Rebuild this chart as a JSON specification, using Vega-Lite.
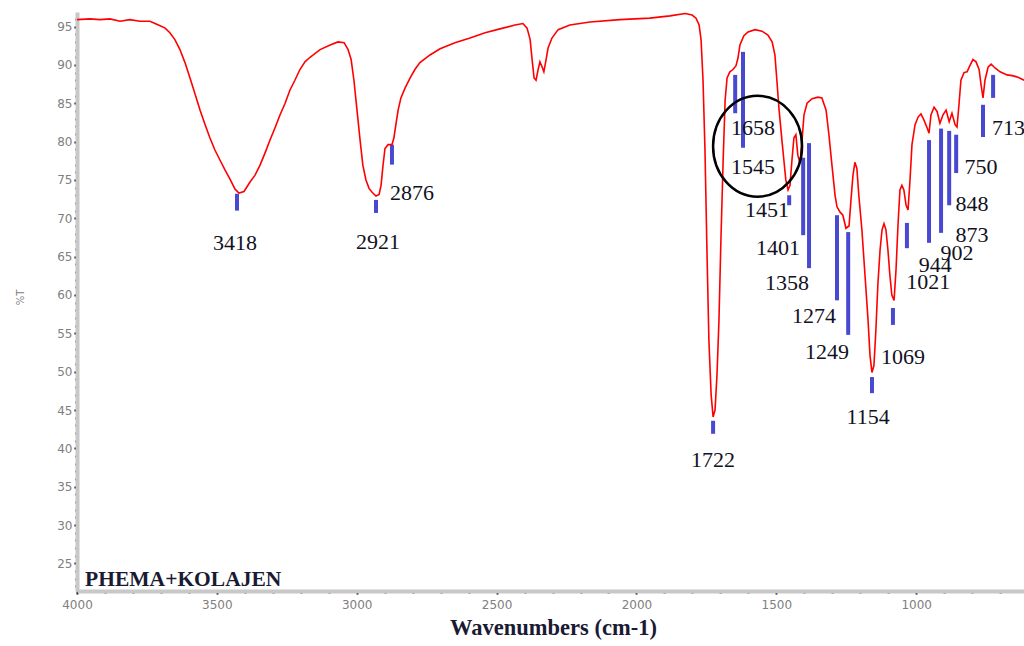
{
  "$schema": "https://vega.github.io/schema/vega-lite/v6.json",
  "width": 947,
  "height": 579,
  "autosize": "none",
  "padding": {"left": 77, "top": 12, "right": 0, "bottom": 55},
  "background": "white",
  "config": {"view": {"stroke": null}},
  "resolve": {"axis": {"x": "independent", "y": "independent"}},
  "datasets": {
    "spectrum": [
      {"wn": 4000, "t": 95.9}, {"wn": 3954, "t": 96.0}, {"wn": 3918, "t": 95.9}, {"wn": 3882, "t": 96.0},
      {"wn": 3846, "t": 95.7}, {"wn": 3811, "t": 95.9}, {"wn": 3775, "t": 95.7}, {"wn": 3739, "t": 95.7},
      {"wn": 3721, "t": 95.4}, {"wn": 3703, "t": 95.1}, {"wn": 3685, "t": 94.8}, {"wn": 3668, "t": 94.2},
      {"wn": 3650, "t": 93.3}, {"wn": 3632, "t": 92.0}, {"wn": 3614, "t": 90.3}, {"wn": 3596, "t": 88.3},
      {"wn": 3578, "t": 86.2}, {"wn": 3560, "t": 84.1}, {"wn": 3542, "t": 82.2}, {"wn": 3525, "t": 80.5},
      {"wn": 3507, "t": 78.9}, {"wn": 3489, "t": 77.6}, {"wn": 3471, "t": 76.3}, {"wn": 3453, "t": 75.1},
      {"wn": 3435, "t": 73.8}, {"wn": 3421, "t": 73.3}, {"wn": 3403, "t": 73.5}, {"wn": 3382, "t": 74.7},
      {"wn": 3364, "t": 75.6}, {"wn": 3346, "t": 76.9}, {"wn": 3328, "t": 78.5}, {"wn": 3310, "t": 80.2},
      {"wn": 3292, "t": 81.8}, {"wn": 3274, "t": 83.5}, {"wn": 3256, "t": 85.0}, {"wn": 3239, "t": 86.7},
      {"wn": 3221, "t": 88.0}, {"wn": 3203, "t": 89.4}, {"wn": 3185, "t": 90.4}, {"wn": 3167, "t": 91.0},
      {"wn": 3131, "t": 92.0}, {"wn": 3095, "t": 92.6}, {"wn": 3067, "t": 93.0}, {"wn": 3045, "t": 92.9},
      {"wn": 3031, "t": 92.0}, {"wn": 3020, "t": 90.7}, {"wn": 3010, "t": 88.0}, {"wn": 2999, "t": 84.1},
      {"wn": 2988, "t": 80.2}, {"wn": 2978, "t": 76.9}, {"wn": 2967, "t": 75.0}, {"wn": 2956, "t": 73.9},
      {"wn": 2945, "t": 73.4}, {"wn": 2931, "t": 72.9}, {"wn": 2920, "t": 73.1}, {"wn": 2913, "t": 74.3},
      {"wn": 2906, "t": 76.9}, {"wn": 2899, "t": 79.1}, {"wn": 2888, "t": 79.6}, {"wn": 2874, "t": 79.6},
      {"wn": 2867, "t": 80.5}, {"wn": 2860, "t": 82.2}, {"wn": 2852, "t": 84.1}, {"wn": 2842, "t": 85.7},
      {"wn": 2827, "t": 87.0}, {"wn": 2809, "t": 88.3}, {"wn": 2792, "t": 89.4}, {"wn": 2774, "t": 90.3},
      {"wn": 2738, "t": 91.3}, {"wn": 2702, "t": 92.1}, {"wn": 2649, "t": 92.9}, {"wn": 2595, "t": 93.5},
      {"wn": 2541, "t": 94.2}, {"wn": 2488, "t": 94.7}, {"wn": 2434, "t": 95.2}, {"wn": 2406, "t": 95.4},
      {"wn": 2391, "t": 94.8}, {"wn": 2380, "t": 93.3}, {"wn": 2373, "t": 90.7}, {"wn": 2366, "t": 88.3},
      {"wn": 2359, "t": 88.0}, {"wn": 2352, "t": 89.3}, {"wn": 2345, "t": 90.4}, {"wn": 2338, "t": 89.8},
      {"wn": 2331, "t": 89.1}, {"wn": 2323, "t": 90.7}, {"wn": 2316, "t": 92.2}, {"wn": 2302, "t": 93.5},
      {"wn": 2280, "t": 94.6}, {"wn": 2238, "t": 95.2}, {"wn": 2166, "t": 95.6}, {"wn": 2059, "t": 95.9},
      {"wn": 1952, "t": 96.1}, {"wn": 1880, "t": 96.4}, {"wn": 1826, "t": 96.7}, {"wn": 1801, "t": 96.5},
      {"wn": 1787, "t": 96.1}, {"wn": 1776, "t": 95.2}, {"wn": 1769, "t": 93.3}, {"wn": 1762, "t": 88.0},
      {"wn": 1755, "t": 78.9}, {"wn": 1748, "t": 65.9}, {"wn": 1741, "t": 54.1}, {"wn": 1733, "t": 47.0},
      {"wn": 1726, "t": 44.1}, {"wn": 1719, "t": 45.0}, {"wn": 1712, "t": 49.6}, {"wn": 1705, "t": 56.7},
      {"wn": 1698, "t": 67.2}, {"wn": 1690, "t": 77.6}, {"wn": 1683, "t": 85.4}, {"wn": 1676, "t": 88.3},
      {"wn": 1666, "t": 89.1}, {"wn": 1655, "t": 89.4}, {"wn": 1644, "t": 89.9}, {"wn": 1637, "t": 90.9},
      {"wn": 1630, "t": 92.6}, {"wn": 1616, "t": 93.8}, {"wn": 1601, "t": 94.3}, {"wn": 1576, "t": 94.6},
      {"wn": 1551, "t": 94.4}, {"wn": 1530, "t": 93.9}, {"wn": 1515, "t": 93.0}, {"wn": 1505, "t": 91.3},
      {"wn": 1498, "t": 88.0}, {"wn": 1490, "t": 84.1}, {"wn": 1480, "t": 80.2}, {"wn": 1473, "t": 77.6},
      {"wn": 1466, "t": 75.0}, {"wn": 1458, "t": 73.7}, {"wn": 1451, "t": 74.3}, {"wn": 1444, "t": 77.6},
      {"wn": 1437, "t": 80.5}, {"wn": 1430, "t": 80.9}, {"wn": 1423, "t": 78.2}, {"wn": 1415, "t": 77.2},
      {"wn": 1408, "t": 80.2}, {"wn": 1401, "t": 83.5}, {"wn": 1390, "t": 85.0}, {"wn": 1372, "t": 85.6},
      {"wn": 1351, "t": 85.8}, {"wn": 1337, "t": 85.7}, {"wn": 1322, "t": 84.1}, {"wn": 1312, "t": 80.9},
      {"wn": 1301, "t": 76.9}, {"wn": 1290, "t": 73.0}, {"wn": 1283, "t": 71.5}, {"wn": 1272, "t": 70.8},
      {"wn": 1262, "t": 70.4}, {"wn": 1251, "t": 68.7}, {"wn": 1240, "t": 69.0}, {"wn": 1233, "t": 72.4},
      {"wn": 1226, "t": 75.6}, {"wn": 1219, "t": 77.3}, {"wn": 1212, "t": 76.5}, {"wn": 1205, "t": 73.0},
      {"wn": 1194, "t": 68.5}, {"wn": 1183, "t": 62.6}, {"wn": 1172, "t": 56.7}, {"wn": 1165, "t": 52.1},
      {"wn": 1158, "t": 49.9}, {"wn": 1151, "t": 50.8}, {"wn": 1144, "t": 55.4}, {"wn": 1137, "t": 61.3},
      {"wn": 1129, "t": 65.9}, {"wn": 1122, "t": 68.5}, {"wn": 1115, "t": 69.3}, {"wn": 1108, "t": 68.5},
      {"wn": 1101, "t": 65.9}, {"wn": 1094, "t": 62.6}, {"wn": 1087, "t": 60.0}, {"wn": 1079, "t": 59.3},
      {"wn": 1072, "t": 63.3}, {"wn": 1065, "t": 69.1}, {"wn": 1058, "t": 73.7}, {"wn": 1051, "t": 74.3},
      {"wn": 1044, "t": 73.7}, {"wn": 1036, "t": 71.7}, {"wn": 1029, "t": 71.1}, {"wn": 1022, "t": 75.0},
      {"wn": 1015, "t": 79.6}, {"wn": 1004, "t": 82.2}, {"wn": 993, "t": 83.2}, {"wn": 983, "t": 83.6},
      {"wn": 972, "t": 82.8}, {"wn": 961, "t": 81.8}, {"wn": 954, "t": 81.1}, {"wn": 947, "t": 83.5},
      {"wn": 936, "t": 84.5}, {"wn": 925, "t": 83.9}, {"wn": 915, "t": 82.4}, {"wn": 904, "t": 83.5},
      {"wn": 893, "t": 84.1}, {"wn": 882, "t": 82.6}, {"wn": 872, "t": 83.7}, {"wn": 861, "t": 82.2},
      {"wn": 854, "t": 81.9}, {"wn": 847, "t": 84.8}, {"wn": 840, "t": 88.0}, {"wn": 829, "t": 89.0},
      {"wn": 818, "t": 89.1}, {"wn": 808, "t": 89.9}, {"wn": 797, "t": 90.7}, {"wn": 786, "t": 90.4},
      {"wn": 775, "t": 89.4}, {"wn": 768, "t": 87.4}, {"wn": 761, "t": 85.7}, {"wn": 754, "t": 88.0},
      {"wn": 743, "t": 89.7}, {"wn": 732, "t": 90.1}, {"wn": 718, "t": 89.6}, {"wn": 700, "t": 89.1},
      {"wn": 675, "t": 88.7}, {"wn": 657, "t": 88.6}, {"wn": 636, "t": 88.4}, {"wn": 614, "t": 88.0}
    ],
    "peaks": [
      {"wn": 3428, "t": 73.2, "t2": 71.0}, {"wn": 2931, "t": 72.4, "t2": 70.7},
      {"wn": 2874, "t": 79.6, "t2": 77.0}, {"wn": 1726, "t": 43.6, "t2": 41.9},
      {"wn": 1647, "t": 88.7, "t2": 83.7}, {"wn": 1619, "t": 91.7, "t2": 79.2},
      {"wn": 1454, "t": 73.0, "t2": 71.7}, {"wn": 1404, "t": 77.9, "t2": 67.8},
      {"wn": 1383, "t": 79.8, "t2": 63.5}, {"wn": 1283, "t": 70.4, "t2": 59.3},
      {"wn": 1243, "t": 68.2, "t2": 54.8}, {"wn": 1158, "t": 49.3, "t2": 47.2},
      {"wn": 1083, "t": 58.3, "t2": 56.1}, {"wn": 1033, "t": 69.4, "t2": 66.1},
      {"wn": 954, "t": 80.2, "t2": 66.8}, {"wn": 911, "t": 81.7, "t2": 68.1},
      {"wn": 882, "t": 81.4, "t2": 71.7}, {"wn": 857, "t": 80.9, "t2": 75.9},
      {"wn": 761, "t": 84.8, "t2": 80.6}, {"wn": 725, "t": 88.7, "t2": 85.7}
    ],
    "labels": [
      {"wn": 3435, "t": 66.8, "label": "3418"}, {"wn": 2924, "t": 66.9, "label": "2921"},
      {"wn": 2802, "t": 73.3, "label": "2876"}, {"wn": 1726, "t": 38.5, "label": "1722"},
      {"wn": 1583, "t": 81.8, "label": "1658"}, {"wn": 1583, "t": 76.7, "label": "1545"},
      {"wn": 1533, "t": 71.1, "label": "1451"}, {"wn": 1494, "t": 66.1, "label": "1401"},
      {"wn": 1462, "t": 61.6, "label": "1358"}, {"wn": 1365, "t": 57.3, "label": "1274"},
      {"wn": 1319, "t": 52.6, "label": "1249"}, {"wn": 1172, "t": 44.1, "label": "1154"},
      {"wn": 1047, "t": 51.9, "label": "1069"}, {"wn": 957, "t": 61.7, "label": "1021"},
      {"wn": 932, "t": 63.9, "label": "944"}, {"wn": 854, "t": 65.5, "label": "902"},
      {"wn": 800, "t": 67.8, "label": "873"}, {"wn": 800, "t": 71.8, "label": "848"},
      {"wn": 768, "t": 76.7, "label": "750"}, {"wn": 670, "t": 81.8, "label": "713"}
    ]
  },
  "layer": [
    {
      "data": {"name": "spectrum"},
      "mark": {"type": "rule", "opacity": 0},
      "encoding": {
        "x": {
          "field": "wn", "type": "quantitative",
          "scale": {"domain": [614.5, 4000], "reverse": true, "nice": false, "zero": false},
          "axis": {
            "orient": "bottom", "title": null, "labels": false, "domain": false, "grid": false,
            "values": [3900, 3800, 3700, 3600, 3400, 3300, 3200, 3100, 2900, 2800, 2700, 2600, 2400, 2300, 2200, 2100, 1900, 1800, 1700, 1600, 1400, 1300, 1200, 1100, 900, 800, 700],
            "tickColor": "#000000", "tickSize": 2, "tickWidth": 2
          }
        },
        "y": {
          "field": "t", "type": "quantitative",
          "scale": {"domain": [21.4, 96.9], "nice": false, "zero": false},
          "axis": {
            "orient": "left", "title": null, "labels": false, "domain": false, "grid": false,
            "values": [22, 23, 24, 26, 27, 28, 29, 31, 32, 33, 34, 36, 37, 38, 39, 41, 42, 43, 44, 46, 47, 48, 49, 51, 52, 53, 54, 56, 57, 58, 59, 61, 62, 63, 64, 66, 67, 68, 69, 71, 72, 73, 74, 76, 77, 78, 79, 81, 82, 83, 84, 86, 87, 88, 89, 91, 92, 93, 94, 96],
            "tickColor": "#000000", "tickSize": 2, "tickWidth": 2
          }
        }
      }
    },
    {
      "data": {"name": "peaks"},
      "mark": {"type": "rule", "color": "#4848d0", "strokeWidth": 4},
      "encoding": {
        "x": {
          "field": "wn", "type": "quantitative",
          "axis": {
            "orient": "bottom",
            "title": "Wavenumbers (cm-1)",
            "values": [4000, 3500, 3000, 2500, 2000, 1500, 1000],
            "format": "d",
            "labelFont": "DejaVu Sans", "labelFontSize": 12, "labelColor": "#808080",
            "labelPadding": 5, "labelFlush": false, "labelOverlap": false,
            "tickColor": "#000000", "tickSize": 3, "tickWidth": 2,
            "domainColor": "#c8c8c8", "domainWidth": 4,
            "grid": false,
            "titleFont": "Liberation Serif", "titleFontSize": 22.5, "titleFontWeight": "bold",
            "titleColor": "#1a1a33", "titleX": 476, "titleY": 43, "titleBaseline": "alphabetic",
            "titleAlign": "center"
          }
        },
        "y": {
          "field": "t", "type": "quantitative",
          "axis": {
            "orient": "left",
            "title": "%T",
            "values": [25, 30, 35, 40, 45, 50, 55, 60, 65, 70, 75, 80, 85, 90, 95],
            "format": "d",
            "labelFont": "DejaVu Sans", "labelFontSize": 12, "labelColor": "#808080",
            "labelPadding": 2, "labelFlush": false, "labelOverlap": false,
            "tickColor": "#000000", "tickSize": 3, "tickWidth": 2,
            "domainColor": "#c8c8c8", "domainWidth": 4,
            "grid": false,
            "titleFont": "DejaVu Sans", "titleFontSize": 10, "titleFontWeight": "normal",
            "titleColor": "#808080", "titleX": -57, "titleY": 285, "titleAngle": -90,
            "titleAlign": "center", "titleBaseline": "middle"
          }
        },
        "y2": {"field": "t2"}
      }
    },
    {
      "data": {"name": "spectrum"},
      "mark": {"type": "line", "color": "#ff0000", "strokeWidth": 1.6},
      "encoding": {
        "x": {"field": "wn", "type": "quantitative", "axis": null},
        "y": {"field": "t", "type": "quantitative", "axis": null}
      }
    },
    {
      "data": {"name": "labels"},
      "mark": {"type": "text", "font": "Liberation Serif", "fontSize": 22, "color": "#111122", "align": "center", "baseline": "middle"},
      "encoding": {
        "x": {"field": "wn", "type": "quantitative", "axis": null},
        "y": {"field": "t", "type": "quantitative", "axis": null},
        "text": {"field": "label"}
      }
    },
    {
      "data": {"values": [{"wn": 1567, "t": 79.4}]},
      "mark": {"type": "point", "shape": "M-0.881,0A0.881,1,0,1,1,0.881,0A0.881,1,0,1,1,-0.881,0Z", "size": 10201, "filled": false, "stroke": "#000000", "strokeWidth": 2.5, "opacity": 1},
      "encoding": {
        "x": {"field": "wn", "type": "quantitative", "axis": null},
        "y": {"field": "t", "type": "quantitative", "axis": null}
      }
    },
    {
      "data": {"values": [{"wn": 3971, "t": 22.8, "label": "PHEMA+KOLAJEN"}]},
      "mark": {"type": "text", "font": "Liberation Serif", "fontSize": 21.5, "fontWeight": "bold", "color": "#1a1a33", "align": "left", "baseline": "middle"},
      "encoding": {
        "x": {"field": "wn", "type": "quantitative", "axis": null},
        "y": {"field": "t", "type": "quantitative", "axis": null},
        "text": {"field": "label"}
      }
    }
  ]
}
